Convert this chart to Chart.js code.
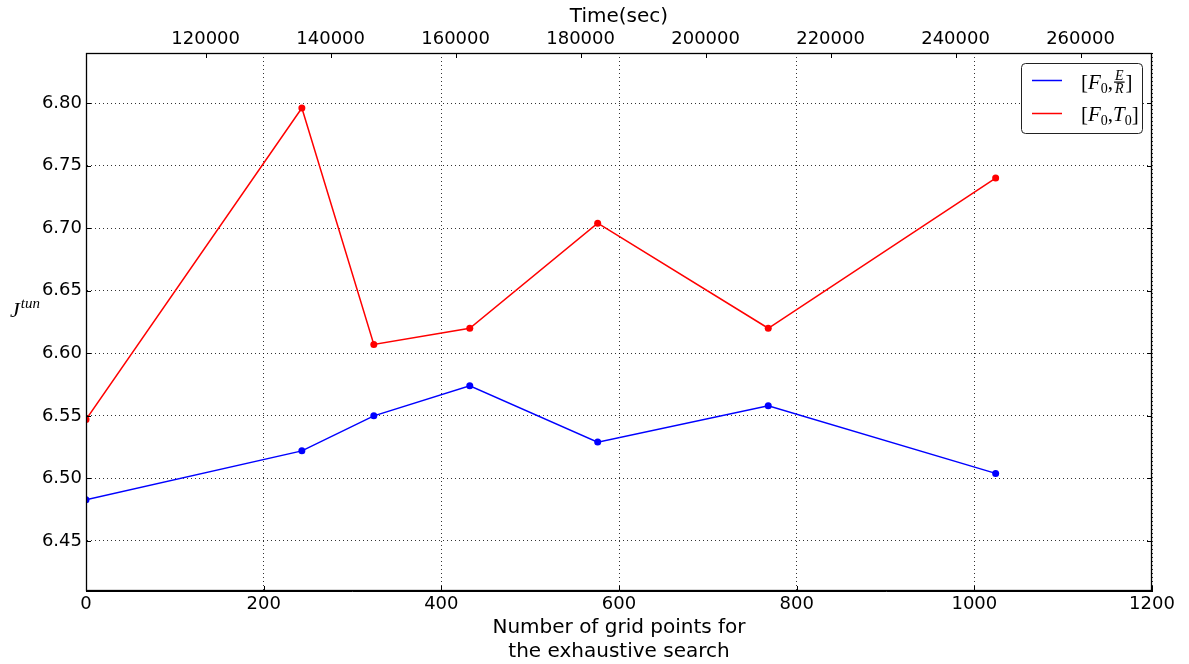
<!DOCTYPE html>
<html lang="en">
<head>
<meta charset="UTF-8">
<title>J tun vs number of grid points</title>
<script src="https://cdn.jsdelivr.net/npm/chart.js"></script>
<style>
    body {
        margin: 0;
        background: #fff;
    }
    .chart-container {
        position: relative;
        width: 1189px;
        height: 664px;
    }
</style>
</head>
<body>

<div class="chart-container">
    <canvas id="jChart"></canvas>
</div>

<script>
    // data
    const gridPoints = [0, 243, 324, 432, 576, 768, 1024];
    const jFE = [6.483, 6.522, 6.550, 6.574, 6.529, 6.558, 6.504];   // [F0, E/R]
    const jFT = [6.547, 6.796, 6.607, 6.620, 6.704, 6.620, 6.740];   // [F0, T0]

    // axis ranges / ticks
    const xRange = [0, 1200];
    const xStep = 200;
    const timeRange = [100850, 271440];
    const timeTicks = [120000, 140000, 160000, 180000, 200000, 220000, 240000, 260000];
    const yRange = [6.41, 6.84];
    const yStep = 0.05;

    const tickFont = { family: 'DejaVu Sans', size: 18 };
    const titleFont = { family: 'DejaVu Sans', size: 20, lineHeight: 1.2 };
    const mathFamily = '"Liberation Serif", "DejaVu Serif", serif';

    // matplotlib style ticks pointing into the plot + frame on all sides
    const frameTicks = {
        id: 'frameTicks',
        afterDatasetsDraw(chart) {
            const { ctx, chartArea: a, scales } = chart;
            ctx.save();
            ctx.strokeStyle = '#000';
            ctx.lineWidth = 1;
            ctx.beginPath();
            scales.x.ticks.forEach(t => {
                const px = Math.round(scales.x.getPixelForValue(t.value)) + 0.5;
                ctx.moveTo(px, a.bottom);
                ctx.lineTo(px, a.bottom - 5);
            });
            scales.x2.ticks.forEach(t => {
                const px = Math.round(scales.x2.getPixelForValue(t.value)) + 0.5;
                ctx.moveTo(px, a.top);
                ctx.lineTo(px, a.top + 5);
            });
            scales.y.ticks.forEach(t => {
                const py = Math.round(scales.y.getPixelForValue(t.value)) + 0.5;
                ctx.moveTo(a.left, py);
                ctx.lineTo(a.left + 5, py);
                ctx.moveTo(a.right, py);
                ctx.lineTo(a.right - 5, py);
            });
            ctx.stroke();
            ctx.lineWidth = 1.3;
            ctx.strokeRect(Math.round(a.left) + 0.5, Math.round(a.top) + 0.5,
                           Math.round(a.width) - 1, Math.round(a.height) - 1);
            ctx.restore();
        }
    };

    // write a run of text pieces (normal / italic / subscript) left to right
    function drawParts(ctx, parts, x, y) {
        parts.forEach(p => {
            ctx.font = p.font;
            ctx.fillText(p.text, x, y + (p.dy || 0));
            x += ctx.measureText(p.text).width + (p.gap || 0);
        });
        return x;
    }

    // horizontal "J^tun" y label
    const yLabel = {
        id: 'yLabel',
        afterDraw(chart) {
            const ctx = chart.ctx;
            ctx.save();
            ctx.fillStyle = '#000';
            ctx.textBaseline = 'alphabetic';
            drawParts(ctx, [
                { text: 'J', font: 'italic 22px ' + mathFamily, gap: 1 },
                { text: 'tun', font: 'italic 15px ' + mathFamily, dy: -9 }
            ], 10, 317);
            ctx.restore();
        }
    };

    // legend box in the upper right corner
    const mathLegend = {
        id: 'mathLegend',
        afterDraw(chart) {
            const ctx = chart.ctx;
            const a = chart.chartArea;
            const box = { x: a.right - 131, y: a.top + 10, w: 121, h: 70 };
            ctx.save();
            ctx.fillStyle = '#fff';
            ctx.strokeStyle = '#222';
            ctx.lineWidth = 1;
            ctx.beginPath();
            ctx.roundRect(box.x + 0.5, box.y + 0.5, box.w, box.h, 4);
            ctx.fill();
            ctx.stroke();

            const rows = [box.y + 17, box.y + 50];
            chart.data.datasets.forEach((ds, i) => {
                ctx.strokeStyle = ds.borderColor;
                ctx.lineWidth = 1.5;
                ctx.beginPath();
                ctx.moveTo(box.x + 11, rows[i] + 0.5);
                ctx.lineTo(box.x + 41, rows[i] + 0.5);
                ctx.stroke();
            });

            ctx.fillStyle = '#000';
            ctx.textBaseline = 'alphabetic';
            const big = '21px ' + mathFamily;
            const it = 'italic 21px ' + mathFamily;
            const sub = '14px ' + mathFamily;
            const small = 'italic 14px ' + mathFamily;

            // [F0, E/R]
            let base = rows[0] + 9;
            let x = drawParts(ctx, [
                { text: '[', font: big },
                { text: 'F', font: it },
                { text: '0', font: sub, dy: 4 },
                { text: ',', font: big, gap: 1 }
            ], box.x + 60, base);
            ctx.font = small;
            const fw = Math.max(ctx.measureText('E').width, ctx.measureText('R').width) + 2;
            const bar = base - 7;
            ctx.textAlign = 'center';
            ctx.fillText('E', x + fw / 2, bar - 2);
            ctx.fillText('R', x + fw / 2, bar + 11);
            ctx.textAlign = 'left';
            ctx.fillRect(x, bar - 0.5, fw, 1.2);
            drawParts(ctx, [{ text: ']', font: big }], x + fw + 1, base);

            // [F0, T0]
            base = rows[1] + 8;
            drawParts(ctx, [
                { text: '[', font: big },
                { text: 'F', font: it },
                { text: '0', font: sub, dy: 4 },
                { text: ',', font: big },
                { text: 'T', font: it },
                { text: '0', font: sub, dy: 4 },
                { text: ']', font: big }
            ], box.x + 60, base);
            ctx.restore();
        }
    };

    const ctx = document.getElementById('jChart').getContext('2d');
    const jChart = new Chart(ctx, {
        type: 'line',
        data: {
            datasets: [
                {
                    label: '[F0, E/R]',
                    data: gridPoints.map((n, i) => ({ x: n, y: jFE[i] })),
                    borderColor: '#0000ff',
                    backgroundColor: '#0000ff',
                    borderWidth: 1.5,
                    pointRadius: 3.5,
                    pointBorderWidth: 0,
                    clip: 0,
                    xAxisID: 'x',
                    yAxisID: 'y'
                },
                {
                    label: '[F0, T0]',
                    data: gridPoints.map((n, i) => ({ x: n, y: jFT[i] })),
                    borderColor: '#ff0000',
                    backgroundColor: '#ff0000',
                    borderWidth: 1.5,
                    pointRadius: 3.5,
                    pointBorderWidth: 0,
                    clip: 0,
                    xAxisID: 'x',
                    yAxisID: 'y'
                }
            ]
        },
        options: {
            responsive: true,
            maintainAspectRatio: false,
            animation: false,
            layout: { padding: { left: 0, right: 37, top: 0, bottom: 0 } },
            plugins: {
                legend: { display: false },
                tooltip: { enabled: false }
            },
            scales: {
                x: {
                    type: 'linear',
                    position: 'bottom',
                    min: xRange[0],
                    max: xRange[1],
                    afterFit: s => { s.height = 73; },
                    ticks: {
                        stepSize: xStep,
                        autoSkip: false,
                        maxRotation: 0,
                        color: '#000',
                        font: tickFont,
                        padding: 3,
                        callback: v => String(v)
                    },
                    grid: { color: 'rgba(0,0,0,0.8)', lineWidth: 1, drawTicks: false },
                    border: { color: '#000', width: 1, dash: [1, 3] },
                    title: {
                        display: true,
                        text: ['Number of grid points for', 'the exhaustive search'],
                        color: '#000',
                        font: titleFont,
                        padding: { top: 0, bottom: 0 }
                    }
                },
                x2: {
                    type: 'linear',
                    axis: 'x',
                    position: 'top',
                    min: timeRange[0],
                    max: timeRange[1],
                    afterFit: s => { s.height = 53; },
                    afterBuildTicks: s => { s.ticks = timeTicks.map(v => ({ value: v })); },
                    ticks: {
                        autoSkip: false,
                        maxRotation: 0,
                        color: '#000',
                        font: tickFont,
                        padding: 3,
                        callback: v => String(v)
                    },
                    grid: { display: false, drawTicks: false },
                    border: { color: '#000', width: 1 },
                    title: {
                        display: true,
                        text: 'Time(sec)',
                        color: '#000',
                        font: titleFont,
                        padding: { top: 5, bottom: 0 }
                    }
                },
                y: {
                    type: 'linear',
                    position: 'left',
                    min: yRange[0],
                    max: yRange[1],
                    afterFit: s => { s.width = 86; },
                    ticks: {
                        stepSize: yStep,
                        includeBounds: false,
                        color: '#000',
                        font: tickFont,
                        padding: 4,
                        callback: v => v.toFixed(2)
                    },
                    grid: { color: 'rgba(0,0,0,0.8)', lineWidth: 1, drawTicks: false },
                    border: { color: '#000', width: 1, dash: [1, 3] }
                }
            }
        },
        plugins: [frameTicks, yLabel, mathLegend]
    });
</script>

</body>
</html>
